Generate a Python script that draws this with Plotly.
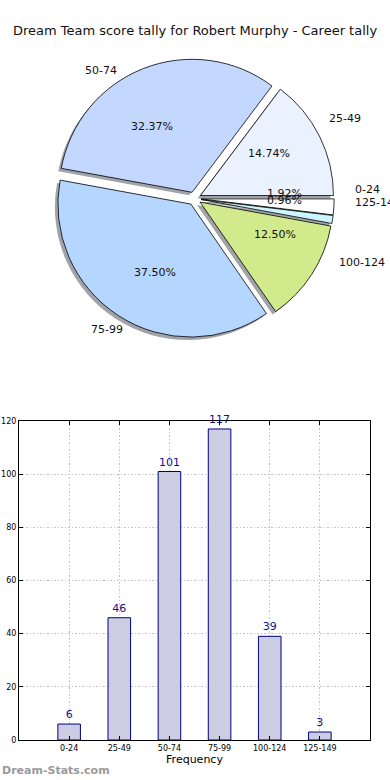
import math
import plotly.graph_objects as go

# ---- data ----
categories = ["0-24", "25-49", "50-74", "75-99", "100-124", "125-149"]
counts = [6, 46, 101, 117, 39, 3]
pie_colors = ["#ffffff", "#eaf1ff", "#c4d8ff", "#b5d6ff", "#d1eb8c", "#ccf6ff"]
title_text = "Dream Team score tally for Robert Murphy - Career tally"
y_ticks = [0, 20, 40, 60, 80, 100, 120]

W, H = 390, 780
FONT = "DejaVu Sans"

# pie geometry (pixels)
cx, cy = 194.5, 198.5
r = 133.0
pull = 0.05
half = r * (1 + pull)
# text placement radii (reference pie is slightly elliptical)
rx_t, ry_t = 138.0, 126.5


def px2x(px):
    return px / W


def py2y(py):
    return 1 - py / H


pie_domain_x = [px2x(cx - half), px2x(cx + half)]
pie_domain_y = [py2y(cy + half), py2y(cy - half)]
sh_dx, sh_dy = -3, 3
shadow_domain_x = [px2x(cx - half + sh_dx), px2x(cx + half + sh_dx)]
shadow_domain_y = [py2y(cy + half + sh_dy), py2y(cy - half + sh_dy)]

fig = go.Figure()

# shadow
fig.add_trace(go.Pie(
    labels=categories, values=counts, sort=False, direction="counterclockwise",
    rotation=90, pull=[pull] * len(counts),
    marker=dict(colors=["rgba(45,50,60,0.45)"] * len(counts), line=dict(width=0)),
    textinfo="none", hoverinfo="skip", showlegend=False,
    domain=dict(x=shadow_domain_x, y=shadow_domain_y),
))
# main pie
fig.add_trace(go.Pie(
    labels=categories, values=counts, sort=False, direction="counterclockwise",
    rotation=90, pull=[pull] * len(counts),
    marker=dict(colors=pie_colors, line=dict(color="#000000", width=0.8)),
    textinfo="none", showlegend=False,
    domain=dict(x=pie_domain_x, y=pie_domain_y),
))

# bar chart
fig.add_trace(go.Bar(
    x=list(range(len(categories))), y=counts, width=0.45,
    marker=dict(color="rgb(204,205,227)", line=dict(color="#000080", width=1)),
    text=[str(v) for v in counts], textposition="outside", cliponaxis=False,
    textfont=dict(family=FONT, size=11, color="#101090"),
    showlegend=False,
    xaxis="x", yaxis="y",
))

annotations = []
total = sum(counts)
start = 0.0
for lab, v in zip(categories, counts):
    ang = start + 360.0 * v / total / 2
    start += 360.0 * v / total
    a = math.radians(ang)
    ox, oy = math.cos(a), math.sin(a)
    # percentage inside
    px = cx + (0.6 + pull) * rx_t * ox
    py = cy - (0.6 + pull) * ry_t * oy
    annotations.append(dict(
        x=px2x(px), y=py2y(py), xref="paper", yref="paper",
        text=f"{100 * v / total:.2f}%", showarrow=False,
        font=dict(family=FONT, size=11, color="#111111"),
        xanchor="center", yanchor="middle",
    ))
    # outside label
    lx = cx + (1.1 + pull) * rx_t * ox
    ly = cy - (1.1 + pull) * ry_t * oy
    annotations.append(dict(
        x=px2x(lx), y=py2y(ly), xref="paper", yref="paper",
        text=lab, showarrow=False,
        font=dict(family=FONT, size=11, color="#111111"),
        xanchor="left" if ox > 0 else "right", yanchor="middle",
    ))

annotations.append(dict(
    x=0, y=py2y(770), xref="paper", yref="paper", text="<b>Dream-Stats.com</b>",
    showarrow=False, xanchor="left", yanchor="middle",
    font=dict(family=FONT, size=11, color="#9a9a9a"),
))

grid_dash = "1.5px,2px"

fig.update_layout(
    width=W, height=H,
    margin=dict(l=0, r=0, t=0, b=0, autoexpand=False),
    paper_bgcolor="white", plot_bgcolor="white",
    font=dict(family=FONT, color="#000000"),
    title=dict(text=title_text, x=0.5, xanchor="center", y=py2y(30), yanchor="middle",
               font=dict(family=FONT, size=13, color="#111111")),
    annotations=annotations,
    xaxis=dict(
        domain=[px2x(19), px2x(370)], anchor="y", automargin=False,
        range=[-1, len(categories)],
        tickmode="array", tickvals=list(range(len(categories))), ticktext=categories,
        tickfont=dict(family=FONT, size=8, color="#000000"),
        showline=True, linecolor="#000000", linewidth=1, mirror="ticks",
        ticks="inside", ticklen=4, tickcolor="#000000",
        showgrid=True, gridcolor="#c4c4c4", griddash=grid_dash, gridwidth=1.2,
        zeroline=False,
        title=dict(text="Frequency", font=dict(family=FONT, size=11, color="#000000"), standoff=3),
    ),
    yaxis=dict(
        domain=[py2y(740), py2y(421)], anchor="x", automargin=False,
        range=[0, 120], tickvals=y_ticks,
        tickfont=dict(family=FONT, size=8, color="#000000"),
        showline=True, linecolor="#000000", linewidth=1, mirror="ticks",
        ticks="inside", ticklen=4, tickcolor="#000000",
        showgrid=True, gridcolor="#c4c4c4", griddash=grid_dash, gridwidth=1.2,
        zeroline=False,
    ),
)

fig.write_html(
    "out.html",
    config={"displayModeBar": False},
    post_script="document.body.style.margin='0px';document.body.style.overflow='hidden';",
)
